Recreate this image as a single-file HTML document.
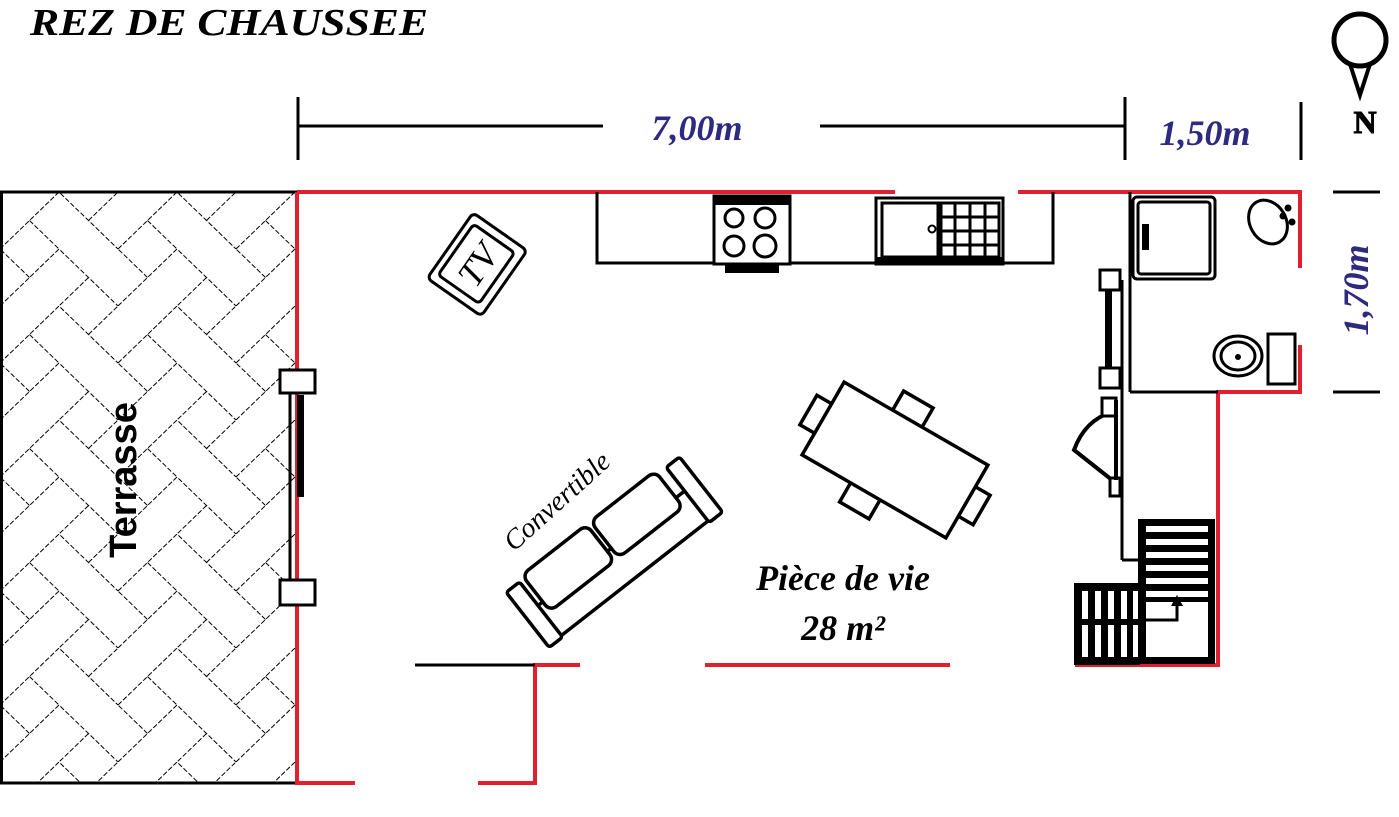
<!DOCTYPE html>
<html><head><meta charset="utf-8"><style>html,body{margin:0;padding:0;background:#fff;}svg{display:block}</style></head>
<body>
<svg width="1399" height="817" viewBox="0 0 1399 817" xmlns="http://www.w3.org/2000/svg">
<defs>
<pattern id="hb" width="118" height="114" patternUnits="userSpaceOnUse" x="0" y="192">
<g stroke="#000" stroke-width="1" stroke-dasharray="5,2" fill="none">
<path d="M0,57 L59,0 L118,57 M0,114 L59,57 L118,114"/>
<path d="M29.5,28.5 L59,57 M88.5,28.5 L118,0 M29.5,85.5 L0,57 M88.5,85.5 L59,114"/>
<path d="M-29.5,28.5 L0,57 M118,57 L147.5,28.5"/>
</g>
</pattern>
</defs>
<text x="30" y="35" font-family="Liberation Serif, serif" font-style="italic" font-weight="bold" font-size="38" textLength="398" lengthAdjust="spacingAndGlyphs">REZ DE CHAUSSEE</text>

<!-- dimensions -->
<g stroke="#000" stroke-width="3">
<line x1="298" y1="97" x2="298" y2="160"/><line x1="298" y1="126" x2="603" y2="126"/>
<line x1="820" y1="126" x2="1125" y2="126"/><line x1="1125" y1="97" x2="1125" y2="160"/>
<line x1="1301" y1="102" x2="1301" y2="160"/>
<line x1="1333" y1="192" x2="1380" y2="192"/><line x1="1333" y1="392" x2="1380" y2="392"/>
</g>
<g font-family="Liberation Serif, serif" font-style="italic" font-weight="bold" font-size="36" fill="#2e2a7f">
<text x="697" y="140" text-anchor="middle">7,00m</text>
<text x="1205" y="145" text-anchor="middle">1,50m</text>
<text transform="translate(1368,290) rotate(-90)" text-anchor="middle">1,70m</text>
</g>
<!-- compass -->
<circle cx="1360" cy="40" r="26" fill="none" stroke="#000" stroke-width="5"/>
<path d="M1350,64 L1360,95 L1370,64" fill="none" stroke="#000" stroke-width="4"/>
<text x="1365" y="133" text-anchor="middle" font-family="Liberation Serif, serif" font-weight="bold" font-size="32" stroke="#000" stroke-width="1">N</text>

<!-- terrace -->
<rect x="1.5" y="192" width="296" height="591" fill="url(#hb)" stroke="#000" stroke-width="3"/>
<text transform="translate(136,480) rotate(-90)" text-anchor="middle" font-family="Liberation Sans, sans-serif" font-weight="bold" font-size="38">Terrasse</text>

<!-- red walls -->
<g stroke="#e0202e" stroke-width="4" fill="none">
<path d="M297,192 L895,192 M1018,192 L1300,192 L1300,268 M1300,345 L1300,392 L1218,392 L1218,665 L1075,665"/>
<path d="M297,192 L297,783 L355,783 M478,783 L535,783 L535,665 L580,665 M705,665 L950,665"/>
</g>
<g stroke="#000" stroke-width="3" fill="none">
<line x1="415" y1="665" x2="535" y2="665"/>
<line x1="1130" y1="392" x2="1218" y2="392"/>
<line x1="1130" y1="192" x2="1130" y2="392"/>
<line x1="1122" y1="280" x2="1122" y2="560"/>
<line x1="1122" y1="560" x2="1140" y2="560"/>
</g>

<!-- left door -->
<g stroke="#000" stroke-width="3" fill="#fff">
<rect x="280" y="370" width="35" height="23"/><rect x="280" y="580" width="35" height="25"/>
<line x1="290" y1="393" x2="290" y2="580"/>
</g>
<rect x="297" y="395" width="7" height="102" fill="#000"/>

<!-- kitchen -->
<path d="M597,192 L597,263 L1053,263 L1053,192" fill="none" stroke="#000" stroke-width="3"/>
<g stroke="#000" stroke-width="3" fill="#fff">
<rect x="714" y="196" width="76" height="68"/>
<circle cx="734" cy="218" r="9"/><circle cx="765" cy="218" r="10"/>
<circle cx="734" cy="246" r="10"/><circle cx="765" cy="246" r="11"/>
<rect x="876" y="198" width="127" height="66"/>
<rect x="882" y="203" width="56" height="54"/>
<rect x="941" y="203" width="58" height="54"/>
</g>
<rect x="714" y="195" width="76" height="10" fill="#000"/>
<rect x="725" y="264" width="54" height="9" fill="#000"/>
<rect x="876" y="257" width="127" height="8" fill="#000"/>
<g stroke="#000" stroke-width="3"><line x1="955" y1="203" x2="955" y2="257"/><line x1="970" y1="203" x2="970" y2="257"/><line x1="985" y1="203" x2="985" y2="257"/>
<line x1="941" y1="217" x2="999" y2="217"/><line x1="941" y1="231" x2="999" y2="231"/><line x1="941" y1="245" x2="999" y2="245"/></g>
<circle cx="932" cy="229" r="3.5" fill="#fff" stroke="#000" stroke-width="2"/>

<!-- bathroom -->
<g stroke="#000" stroke-width="3" fill="#fff">
<rect x="1133" y="197" width="82" height="82" rx="4"/>
<rect x="1138" y="202" width="72" height="72" rx="3"/>
<ellipse cx="1268" cy="222" rx="18" ry="23" transform="rotate(-30 1268 222)"/>
<rect x="1268" y="334" width="27" height="50"/>
<ellipse cx="1238" cy="356" rx="24" ry="20"/><ellipse cx="1238" cy="356" rx="17" ry="14"/>
<rect x="1100" y="270" width="20" height="20"/><rect x="1100" y="368" width="20" height="20"/>
</g>
<circle cx="1238" cy="357" r="3" fill="#000"/>
<rect x="1142" y="224" width="7" height="26" fill="#000"/>
<rect x="1105" y="290" width="7" height="78" fill="#000"/>
<g fill="#000"><circle cx="1288" cy="208" r="3.5"/><circle cx="1283" cy="216" r="3.5"/><circle cx="1292" cy="222" r="3.5"/></g>

<!-- second door -->
<g stroke="#000" stroke-width="4" fill="none">
<path d="M1112,412 Q1085,420 1074,450 L1112,480"/>
<rect x="1102" y="398" width="14" height="18" stroke-width="3" fill="#fff"/>
<rect x="1110" y="478" width="10" height="18" stroke-width="3" fill="#fff"/>
<line x1="1116" y1="400" x2="1116" y2="480"/>
</g>

<!-- stairs -->
<rect x="1138" y="519" width="77" height="145" fill="#000"/>
<rect x="1074" y="583" width="66" height="82" fill="#000"/>
<g fill="#fff">
<rect x="1146" y="526" width="62" height="6"/><rect x="1146" y="539" width="62" height="6"/><rect x="1146" y="552" width="62" height="6"/><rect x="1146" y="565" width="62" height="6"/><rect x="1146" y="578" width="62" height="6"/><rect x="1146" y="591" width="62" height="6"/>
<rect x="1146" y="602" width="62" height="55"/>
<rect x="1082" y="591" width="6" height="28"/><rect x="1095" y="591" width="6" height="28"/><rect x="1108" y="591" width="6" height="28"/><rect x="1121" y="591" width="6" height="28"/><rect x="1133" y="591" width="5" height="28"/>
<rect x="1082" y="625" width="6" height="32"/><rect x="1095" y="625" width="6" height="32"/><rect x="1108" y="625" width="6" height="32"/><rect x="1121" y="625" width="6" height="32"/><rect x="1133" y="625" width="5" height="32"/>
</g>
<path d="M1140,620 L1177,620 L1177,605" fill="none" stroke="#000" stroke-width="3"/>
<path d="M1171,606 L1177,595 L1183,606 Z" fill="#000"/>

<!-- TV -->
<g transform="translate(478,265) rotate(-55)" stroke="#000" stroke-width="3" fill="#fff">
<rect x="-40" y="-34" width="80" height="66" rx="5"/>
<rect x="-31" y="-27" width="62" height="50" rx="4"/>
<text x="0" y="12" text-anchor="middle" stroke="none" fill="#000" font-family="Liberation Serif, serif" font-style="italic" font-size="36">TV</text>
</g>

<!-- table -->
<g transform="translate(895,460) rotate(30)" stroke="#000" stroke-width="3.5" fill="#fff">
<rect x="-100" y="-17" width="24" height="34"/>
<rect x="76" y="-17" width="24" height="34"/>
<rect x="-27" y="-64" width="34" height="26"/>
<rect x="-27" y="38" width="34" height="26"/>
<rect x="-83" y="-42" width="166" height="84"/>
</g>

<!-- sofa -->
<g transform="translate(615,553) rotate(-38)" stroke="#000" stroke-width="3.5" fill="#fff">
<rect x="-95" y="-6" width="190" height="38" rx="3"/>
<rect x="-110" y="-36" width="17" height="70" rx="3"/>
<rect x="93" y="-36" width="17" height="70" rx="3"/>
<rect x="-87" y="-40" width="82" height="46" rx="8"/>
<rect x="0" y="-40" width="82" height="46" rx="8"/>
</g>
<text transform="translate(563,508) rotate(-42)" text-anchor="middle" font-family="Liberation Serif, serif" font-style="italic" font-size="28">Convertible</text>

<g font-family="Liberation Serif, serif" font-style="italic" font-weight="bold" font-size="36" text-anchor="middle">
<text x="843" y="590">Pièce de vie</text>
<text x="843" y="640">28 m²</text>
</g>
</svg>
</body></html>
